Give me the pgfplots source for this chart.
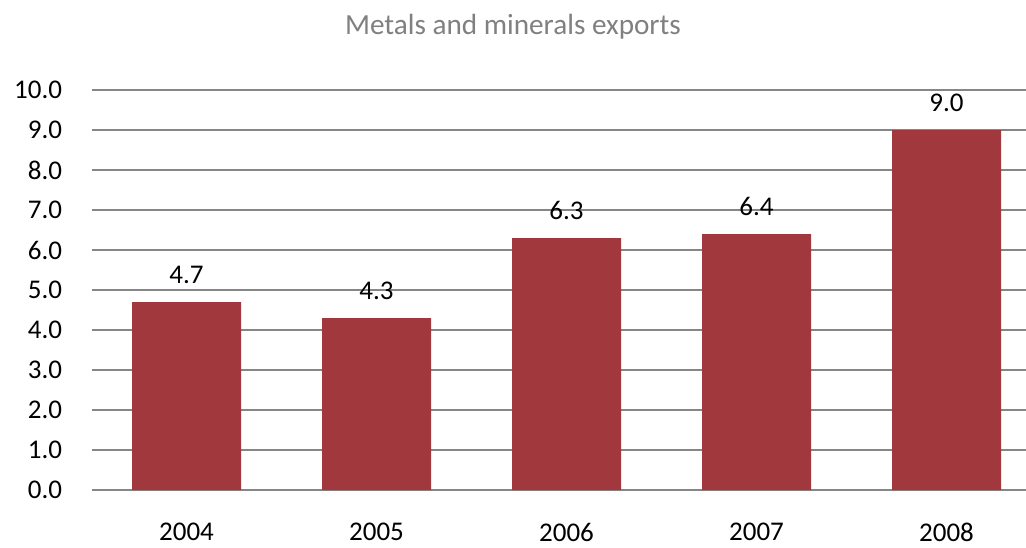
\documentclass[border=0pt]{standalone}
\usepackage{fontspec}
\setmainfont{Carlito}
\usepackage{pgfplots}
\pgfplotsset{compat=1.18}

\definecolor{barred}{RGB}{160,56,62}
\definecolor{gridgray}{RGB}{134,134,134}
\definecolor{titlegray}{RGB}{128,128,128}
\newcommand\lblfont{\fontsize{13.5pt}{16pt}\selectfont}

\begin{document}
\begin{tikzpicture}
\useasboundingbox (-45.75pt,-28.5pt) rectangle (467.25pt,245pt);
\clip (-45.75pt,-28.5pt) rectangle (467.25pt,245pt);
\begin{axis}[
    at={(0,0)}, anchor=south west,
    scale only axis,
    width=475pt, height=200pt,
    xmin=-0.5, xmax=4.5,
    ymin=0, ymax=10,
    ytick={0,1,...,10},
    xtick=data,
    xticklabels={2004,2005,2006,2007,2008},
    /pgf/number format/assume math mode=true,
    axis line style={draw=none},
    tick style={draw=none},
    ymajorgrids,
    major grid style={draw=gridgray, line width=0.65pt},
    tick label style={font=\lblfont, text=black},
    yticklabel style={inner sep=0pt, anchor=east, xshift=-14.5pt,
        /pgf/number format/.cd, fixed, fixed zerofill, precision=1},
    xticklabel style={inner sep=0pt, anchor=north, yshift=-12pt},
    ybar, bar width=54.5pt, bar shift=0pt,
    nodes near coords={\pgfmathprintnumber[fixed,fixed zerofill,precision=1]{\pgfplotspointmeta}},
    every node near coord/.append style={font=\lblfont, text=black, anchor=south, inner sep=0pt, yshift=9pt},
]
\addplot[fill=barred, draw=none] coordinates {
    (0,4.7) (1,4.3) (2,6.3) (3,6.4) (4,9.0)
};
\end{axis}
\node[anchor=base, font=\fontsize{14.6pt}{17pt}\selectfont, text=titlegray]
    at (210.75pt,227.5pt) {Metals and minerals exports};
\end{tikzpicture}
\end{document}
